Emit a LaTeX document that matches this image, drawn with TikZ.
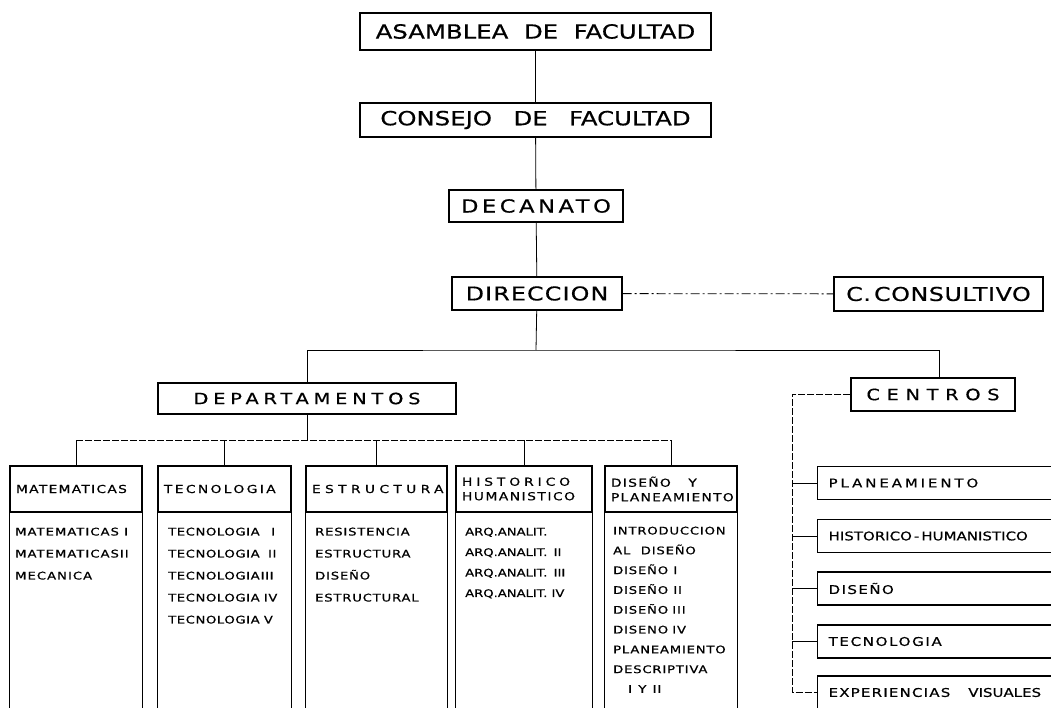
\documentclass[tikz,border=0pt]{standalone}
\usepackage{fontspec}
\setmainfont{DejaVu Sans}[FakeStretch=1.25,FakeBold=0.6]
\usetikzlibrary{positioning}
\newcommand{\ls}[1]{\addfontfeature{LetterSpace=#1}}

\begin{document}
\begin{tikzpicture}[x=1pt,y=-1pt,
    box/.style={draw,line width=1.2pt,inner sep=0pt,font=\fontsize{19.5}{22}\selectfont},
    head/.style={draw,line width=1.2pt,inner xsep=6pt,inner ysep=0pt,align=left,minimum height=46pt,font=\fontsize{11}{14.5}\selectfont\ls{14}},
    list/.style={inner sep=0pt,anchor=north west,align=left,font=\fontsize{10.5}{22}\selectfont\ls{6}},
    centro/.style={draw,line width=1.2pt,anchor=west,inner xsep=11pt,inner ysep=0pt,minimum height=33pt,text width=280pt,align=left,font=\fontsize{12}{14}\selectfont\ls{14}},
    link/.style={line width=0.8pt},
    dashline/.style={line width=0.6pt,dash pattern=on 7pt off 2pt},
    dashdot/.style={line width=0.8pt,dash pattern=on 9pt off 3pt on 2pt off 3pt}]
  \useasboundingbox (0,0) rectangle (1051,708);
  \clip (0,0) rectangle (1051,708);

  % upper chain
  \node[box,minimum width=351pt,minimum height=37pt] (asam) at (535.5,31.5) {ASAMBLEA\hspace{0.8em}DE\hspace{0.8em}FACULTAD};
  \node[box,minimum width=351pt,minimum height=34pt] (conse) at (535.5,120) {CONSEJO\hspace{1.1em}DE\hspace{1.1em}FACULTAD};
  \node[box,minimum width=174pt,minimum height=32pt,font=\fontsize{18}{20}\selectfont\ls{20}] (dec) at (536,206) {DECANATO};
  \node[box,minimum width=170pt,minimum height=33pt,font=\fontsize{19}{21}\selectfont\ls{6}] (dir) at (537,293.5) {DIRECCION};
  \node[box,minimum width=209pt,minimum height=34pt,font=\fontsize{19}{21}\selectfont\ls{3}] (cons) at (938.5,294) {C.\,CONSULTIVO};
  \node[box,minimum width=298pt,minimum height=31pt,font=\fontsize{15.5}{17}\selectfont\ls{31}] (dep) at (307,398.5) {DEPARTAMENTOS};
  \node[box,minimum width=164pt,minimum height=33pt,font=\fontsize{15.5}{17}\selectfont\ls{43}] (cen) at (933,394.5) {CENTROS};

  \draw[link] (asam) -- (conse);
  \draw[link] (conse) -- (dec);
  \draw[link] (dec) -- (dir);
  \draw[dashdot] (dir) -- (cons);
  \coordinate (split) at (536,350);
  \draw[link] (dir) -- (split);
  \draw[link] (dep.north) |- (split) -| ([xshift=6pt]cen.north);

  % departamentos
  \node[head,text width=120pt,font=\fontsize{11}{14.5}\selectfont\ls{12}] (mat) at (76,489) {MATEMATICAS};
  \node[head,text width=121pt,font=\fontsize{11}{14.5}\selectfont\ls{22}] (tec) at (224.5,489) {TECNOLOGIA};
  \node[head,text width=129pt,font=\fontsize{11}{14.5}\selectfont\ls{40}] (est) at (376.5,489) {ESTRUCTURA};
  \node[head,text width=124pt] (his) at (524,489) {{\ls{36}HISTORICO}\\HUMANISTICO};
  \node[head,text width=120pt,font=\fontsize{11}{14.5}\selectfont\ls{12}] (dis) at (671,489) {DISEÑO\hspace{1.6em}Y\\PLANEAMIENTO};
  \foreach \c in {mat,tec,est,his,dis}
    \draw[line width=1.2pt] (\c.south west) -- ++(0,230) (\c.south east) -- ++(0,230);

  \coordinate (dbar) at (305,440);
  \draw[link] (dep.south) -- (dep.south |- dbar);
  \draw[dashline] (mat.north |- dbar) -- (dis.north |- dbar);
  \foreach \c in {mat,tec,est,his,dis}
    \draw[link] (\c.north |- dbar) -- (\c.north);

  \node[list,font=\fontsize{10.5}{22}\selectfont\ls{10}] (matl) at (15,527.5) {MATEMATICAS\hspace{0.5em}I\\MATEMATICAS\hspace{1pt}II\\MECANICA};
  \node[list] (tecl) at (168,527.5) {TECNOLOGIA\hspace{1.1em}I\\TECNOLOGIA\hspace{0.8em}II\\TECNOLOGIA\hspace{1pt}III\\TECNOLOGIA\hspace{0.4em}IV\\TECNOLOGIA\hspace{0.4em}V};
  \node[list,font=\fontsize{10.5}{22}\selectfont\ls{8}] (estl) at (315,527.5) {RESISTENCIA\\ESTRUCTURA\\DISEÑO\\ESTRUCTURAL};
  \node[list,font=\fontsize{10.5}{20.5}\selectfont] (hisl) at (465,527.5) {ARQ.ANALIT.\\ARQ.ANALIT.\hspace{0.6em}II\\ARQ.ANALIT.\hspace{0.6em}III\\ARQ.ANALIT.\hspace{0.4em}IV};
  \node[list,font=\fontsize{10.5}{19.8}\selectfont\ls{8}] (disl) at (613,526.5) {INTRODUCCION\\AL\hspace{1em}DISEÑO\\DISEÑO\hspace{0.5em}I\\DISEÑO\hspace{0.5em}II\\DISEÑO\hspace{0.4em}III\\DISENO\hspace{0.4em}IV\\PLANEAMIENTO\\DESCRIPTIVA\\\hspace*{15pt}I\hspace{0.6em}Y\hspace{0.6em}II};

  % centros
  \node[centro,font=\fontsize{12}{14}\selectfont\ls{24}] (pla) at (817,483) {PLANEAMIENTO};
  \node[centro,font=\fontsize{12}{14}\selectfont] (hum) at (817,536) {HISTORICO\,-\,HUMANISTICO};
  \node[centro,font=\fontsize{12}{14}\selectfont\ls{12}] (dsn) at (817,588.5) {DISEÑO};
  \node[centro] (tcn) at (817,641.5) {TECNOLOGIA};
  \node[centro,font=\fontsize{12}{14}\selectfont\ls{10}] (exp) at (817,692.5) {EXPERIENCIAS\hspace{18pt}{\ls{0}VISUALES}};

  \draw[dashline] (cen.west) -| ([xshift=-25pt]exp.west) -- (exp.west);
  \foreach \c in {pla,hum,dsn,tcn}
    \draw[link] ([xshift=-25pt]\c.west) -- (\c.west);
\end{tikzpicture}
\end{document}
